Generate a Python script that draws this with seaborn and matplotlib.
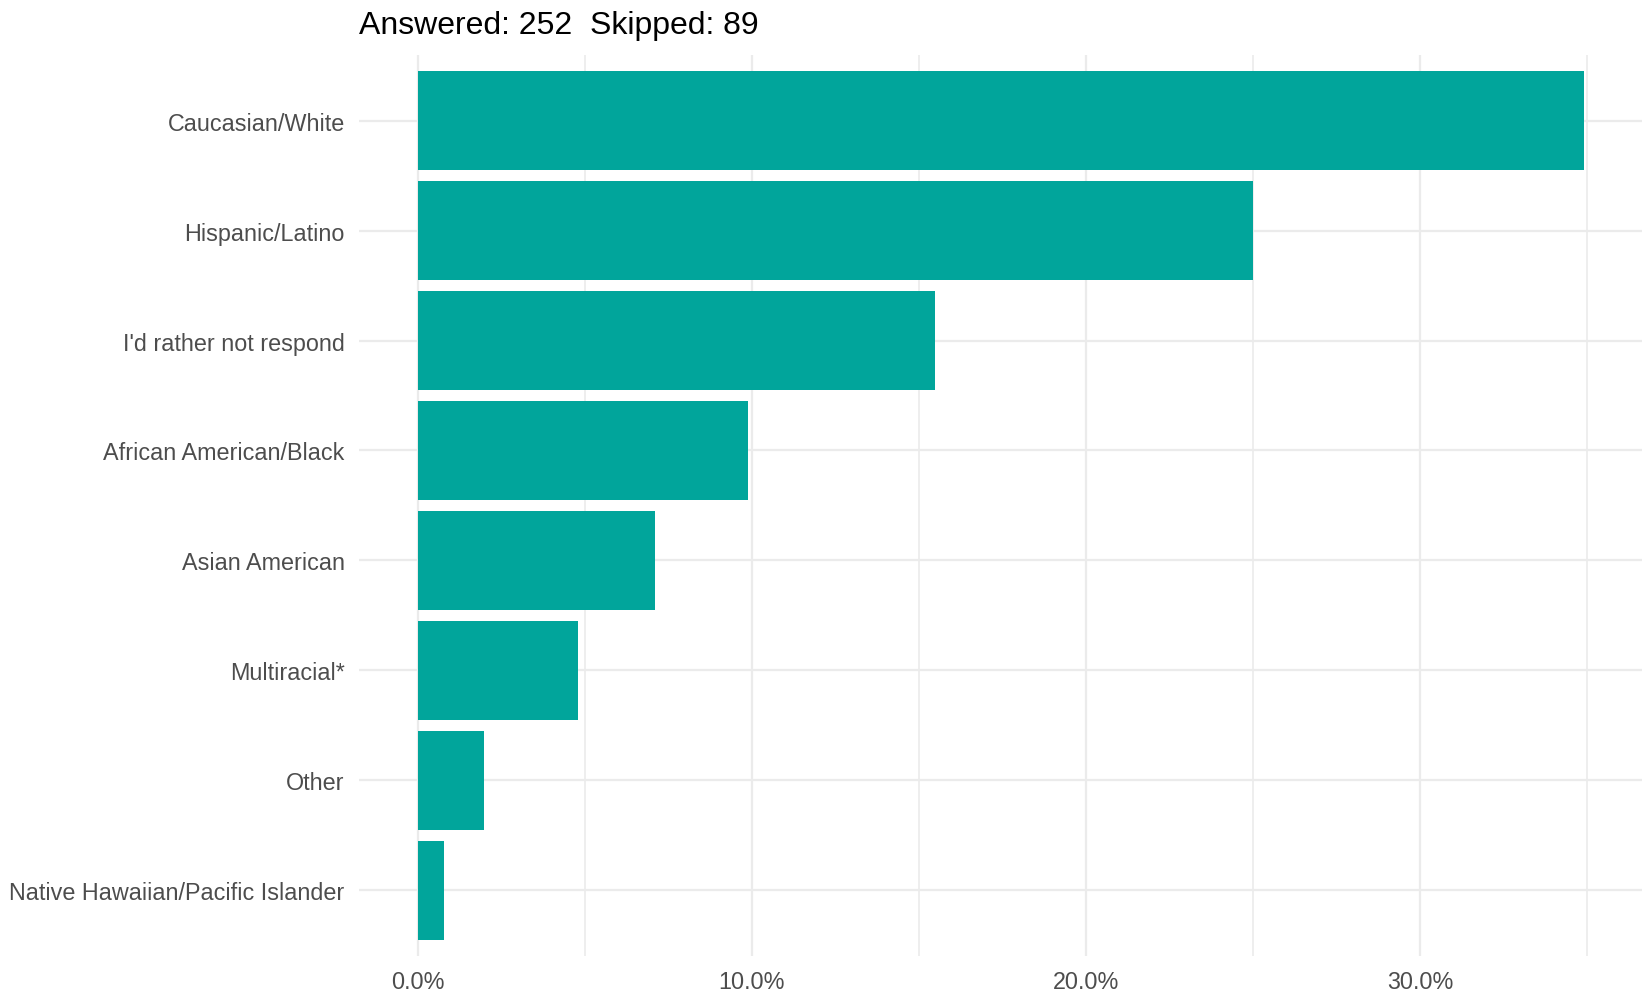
import matplotlib
matplotlib.use("Agg")
import matplotlib.pyplot as plt
import seaborn as sns
import pandas as pd
from matplotlib.ticker import MultipleLocator, FuncFormatter

categories = ["Caucasian/White", "Hispanic/Latino", "I'd rather not respond",
              "African American/Black", "Asian American", "Multiracial*",
              "Other", "Native Hawaiian/Pacific Islander"]
percents = [34.9, 25.0, 15.5, 9.9, 7.1, 4.8, 2.0, 0.8]
title = "Answered: 252  Skipped: 89"

df = pd.DataFrame({"category": categories, "pct": percents})

sns.set_theme(style="white")
plt.rcParams["font.family"] = ["Liberation Sans", "DejaVu Sans"]

fig = plt.figure(figsize=(16.42, 9.95), dpi=100)
ax = fig.add_axes([0.2188, 0.038, 0.7812, 0.906])

ax.set_axisbelow(True)
sns.barplot(data=df, x="pct", y="category", order=categories, color="#01A59B",
            saturation=1, width=0.9, orient="h", ax=ax, edgecolor="none")

xmax = max(percents)
ax.set_xlim(-0.05 * xmax, xmax * 1.05)
ax.set_ylim(len(categories) - 1 + 0.6, -0.6)

ax.xaxis.set_major_locator(MultipleLocator(10))
ax.xaxis.set_minor_locator(MultipleLocator(5))
ax.xaxis.set_major_formatter(FuncFormatter(lambda v, p: f"{v:.1f}%"))
ax.grid(True, which="major", axis="both", color="#ebebeb", linewidth=1.6)
ax.grid(True, which="minor", axis="x", color="#ebebeb", linewidth=1.2)

for s in ax.spines.values():
    s.set_visible(False)
ax.tick_params(axis="both", which="both", length=0, labelsize=16.8, labelcolor="#4d4d4d")
ax.tick_params(axis="y", pad=10.5)
ax.tick_params(axis="x", pad=10)
ax.set_xlabel("")
ax.set_ylabel("")

fig.text(0.2188, 0.974, title, fontsize=23, color="black", ha="left", va="center")

fig.savefig("out.png", dpi=100)
